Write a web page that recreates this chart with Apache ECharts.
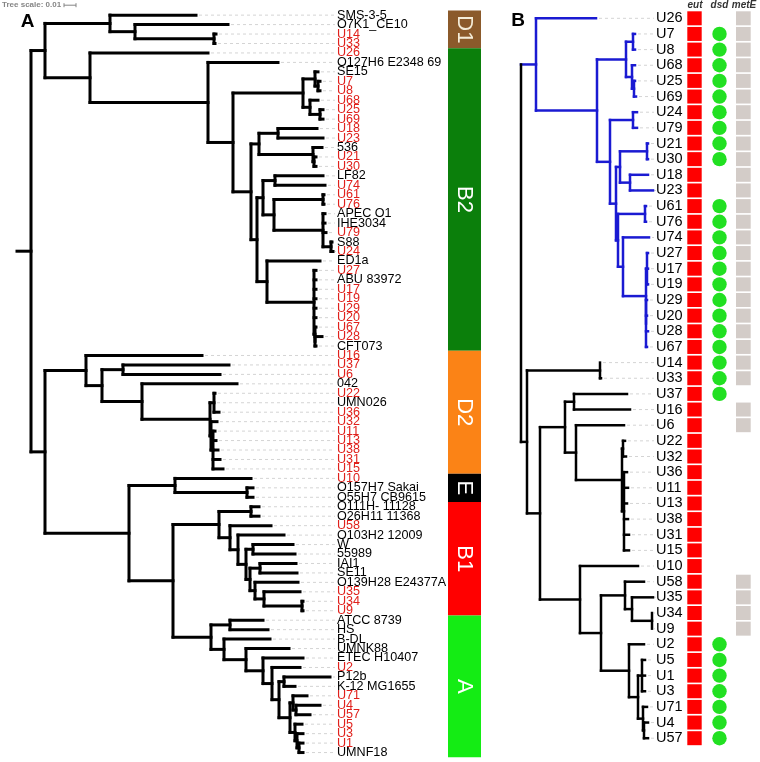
<!DOCTYPE html>
<html><head><meta charset="utf-8">
<script src="https://cdn.jsdelivr.net/npm/echarts@6/dist/echarts.min.js"></script>
<style>html,body{margin:0;padding:0;background:#fff}#c{width:760px;height:762px}</style>
</head><body><div id="c"></div>
<script>
// ---------------- DATA ----------------
// Panel A leaves, top to bottom
const leavesA = ['SMS-3-5','O7K1_CE10','U14','U33','U26','O127H6 E2348 69','SE15','U7','U8','U68','U25','U69','U18','U23','536','U21','U30','LF82','U74','U61','U76','APEC O1','IHE3034','U79','S88','U24','ED1a','U27','ABU 83972','U17','U19','U29','U20','U67','U28','CFT073','U16','U37','U6','042','U22','UMN026','U36','U32','U11','U13','U38','U31','U15','U10','O157H7 Sakai','O55H7 CB9615','O111H- 11128','O26H11 11368','U58','O103H2 12009','W','55989','IAI1','SE11','O139H28 E24377A','U35','U34','U9','ATCC 8739','HS','B-DL','UMNK88','ETEC H10407','U2','P12b','K-12 MG1655','U71','U4','U57','U5','U3','U1','UMNF18'];
// Trees: internal node = [depth, ...children], leaf = tip depth (distance from root; 12 units = 0.01)
const cladeD1 = [93, 179, [118, 211, [197, 199, 198]]];
const cladeB2 = [73, 191, [191, 261, [216,
  [286, [298, 301, [301, 303, 303]], [293, 301, [303, 306, 306]]],
  [234,
    [242, [261, 300, 306], [296, 305, [297, 299, 299]]],
    [240,
      [246, [258, 306, 308], [257, [306, 307, 307], [306, 308, 308, 309, [314, 315, 316]]]],
      [250, 303, [297, 299, 299, 299, 299, 299, 299, [298, 299, [298, 305, 299]]]]
    ]
  ]
]]];
const cladeD2 = [69, 185, [85, [106, 212, 203], [125, 220, [193, [197, 198, 197, 202], [194, 200, [196, 198, 199, 201, 203, 206]]]]]];
const cladeE = [158, 234, [230, 236, 236]];
const cladeB1 = [202, [234, 242, 242], [213, 254, [221, 267, [229, [236, 276, 278], [233, [243, 279, 280], [238, 281, [247, 283, [285, 286, 286]]]]]]]];
const cladeA = [194, [213, 246, 251], [207, 253, [229, 272, [246, 286, [255, 283, [262, [267, 313, 278], [273, [276, 290, [279, 303, 293]], [278, 285, [280, 286, [282, 286, 286]]]]]]]]]];
const rootDepthA = 14;
const treeA = [rootDepthA, [28, cladeD1, cladeB2], [28, cladeD2, [112, cladeE, [156, cladeB1, cladeA]]]];

const cladeNames = ['D1', 'B2', 'D2', 'E', 'B1', 'A'];
const cladeFrom = [-0.5, 3.5, 35.5, 48.5, 51.5, 63.5];
const cladeTo = [3.5, 35.5, 48.5, 51.5, 63.5, 78.5];
const scaleBarUnits = 12; // = 0.01

// Panel B
const leavesB = ['U26','U7','U8','U68','U25','U69','U24','U79','U21','U30','U18','U23','U61','U76','U74','U27','U17','U19','U29','U20','U28','U67','U14','U33','U37','U16','U6','U22','U32','U36','U11','U13','U38','U31','U15','U10','U58','U35','U34','U9','U2','U5','U1','U3','U71','U4','U57'];
const blueCladeB = [15, 75, [76,
  [105, [112, 114, 114], [111, 114, [113, 114, 115]]],
  [89, [112, 116, 116], [95,
    [99, [126, 127, 127], [109, 127, 132]],
    [97, [124, 125, 125], [102, 128, [125, [126, 127, 127, 127], [125, 126, 126, 127, 126]]]]
  ]]
]];
const otherCladeB = [6, [79, 79, 80], [19,
  [44, [53, 106, 109], [55, 103, [101, [102, 104, 105], [103, 106, 107, 106, 107, 108, 108]]]],
  [59, 117, [80,
    [104, 123, [111, 132, [131, 131, 131]]],
    [108, 123, [117, [121, 124, 124, 124], [122, 126, [123, 127, 127]]]]
  ]]
]];
const eut  = [1,1,1,1,1,1,1,1,1,1,1,1,1,1,1,1,1,1,1,1,1,1,1,1,1,1,1,1,1,1,1,1,1,1,1,1,1,1,1,1,1,1,1,1,1,1,1];
const dsd  = [0,1,1,1,1,1,1,1,1,1,0,0,1,1,1,1,1,1,1,1,1,1,1,1,1,0,0,0,0,0,0,0,0,0,0,0,0,0,0,0,1,1,1,1,1,1,1];
const metE = [1,1,1,1,1,1,1,1,1,1,1,1,1,1,1,1,1,1,1,1,1,1,1,1,0,1,1,0,0,0,0,0,0,0,0,0,1,1,1,1,0,0,0,0,0,0,0];

// ---------------- STYLE / LAYOUT ----------------
const FONT = '"Liberation Sans", Arial, sans-serif';
const RED_TXT = '#e0201b';
const BLUE = '#1a1ad2';
const cladeColors = ['#8b5a2b', '#0b7f0b', '#fb8316', '#000000', '#ff0000', '#14ec14'];
const SP_A = 9.48, Y0_A = 15, SP_B = 15.65, Y0_B = 18.3;
const LABEL_X_A = 320, BAR_X0 = 431, BAR_X1 = 464;
const LABEL_X_B = 135, EUT_X0 = 166.3, EUT_X1 = 180.7, DSD_X = 198.5, MET_X0 = 215, MET_X1 = 229.7;

function layout(rootDepth, kids, colors, stub) {
  const segs = [], tips = [];
  let n = 0;
  function walk(node, pd, c) {
    if (typeof node === 'number') {
      const y = n++;
      tips.push([node, y]);
      segs.push([pd, y, node, y, c]);
      return y;
    }
    const d = node[0];
    const ys = node.slice(1).map(ch => walk(ch, d, c));
    const y = (ys[0] + ys[ys.length - 1]) / 2;
    segs.push([d, ys[0], d, ys[ys.length - 1], c]);
    segs.push([pd, y, d, y, c]);
    return y;
  }
  const ys = kids.map((k, i) => walk(k, rootDepth, colors[i]));
  const ry = (ys[0] + ys[ys.length - 1]) / 2;
  segs.push([rootDepth, ys[0], rootDepth, ys[ys.length - 1], 0]);
  if (stub !== null) segs.push([stub, ry, rootDepth, ry, 0]);
  return { segs, tips };
}
const LA = layout(treeA[0], treeA.slice(1), [0, 0], 0);
const LB = layout(0, [blueCladeB, otherCladeB], [1, 0], null);

function branchRender(w) {
  return function (params, api) {
    const p1 = api.coord([api.value(0), api.value(1)]);
    const p2 = api.coord([api.value(2), api.value(3)]);
    return { type: 'line', shape: { x1: p1[0], y1: p1[1], x2: p2[0], y2: p2[1] },
      style: { stroke: api.value(4) ? BLUE : '#000', lineWidth: w, lineCap: 'square' } };
  };
}
function labelRender(names, labelX, fs, redU, dashEnd) {
  return function (params, api) {
    const i = api.value(1);
    const tip = api.coord([api.value(0), i]);
    const lab = api.coord([labelX, i]);
    const name = names[params.dataIndex];
    return { type: 'group', children: [
      { type: 'line', shape: { x1: tip[0] + 3, y1: tip[1], x2: lab[0] - dashEnd, y2: tip[1] },
        style: { stroke: '#d4d4d4', lineWidth: 1, lineDash: [3, 3] }, z2: 0 },
      { type: 'text', x: lab[0], y: lab[1], z2: 5,
        style: { text: name, fill: (redU && /^U\d+$/.test(name)) ? RED_TXT : '#000',
          fontSize: fs, fontFamily: FONT, align: 'left', verticalAlign: 'middle' } }
    ] };
  };
}

const chart = echarts.init(document.getElementById('c'), null, { renderer: 'canvas' });
chart.setOption({
  animation: false,
  backgroundColor: '#fff',
  grid: [
    { left: 17, width: 743, top: Y0_A - 1.6 * SP_A, height: 80.6 * SP_A },
    { left: 521, width: 239, top: Y0_B - SP_B, height: 48 * SP_B }
  ],
  xAxis: [
    { gridIndex: 0, type: 'value', min: 0, max: 743, show: false },
    { gridIndex: 1, type: 'value', min: 0, max: 239, show: false }
  ],
  yAxis: [
    { gridIndex: 0, type: 'value', min: -1.6, max: 79, inverse: true, show: false },
    { gridIndex: 1, type: 'value', min: -1, max: 47, inverse: true, show: false }
  ],
  graphic: [
    { type: 'text', left: 2, top: 1, style: { text: 'Tree scale: 0.01', fill: '#858585', font: 'bold 8px ' + FONT } },
    { type: 'text', x: 27.5, y: 22, style: { text: 'A', fill: '#000', font: 'bold 19px ' + FONT, align: 'center', verticalAlign: 'middle' } },
    { type: 'text', x: 518, y: 20.5, style: { text: 'B', fill: '#000', font: 'bold 19px ' + FONT, align: 'center', verticalAlign: 'middle' } },
    { type: 'text', x: 695, y: 5.5, style: { text: 'eut', fill: '#333', font: 'italic bold 10px ' + FONT, align: 'center', verticalAlign: 'middle' } },
    { type: 'text', x: 719.5, y: 5.5, style: { text: 'dsd', fill: '#333', font: 'italic bold 10px ' + FONT, align: 'center', verticalAlign: 'middle' } },
    { type: 'text', x: 744, y: 5.5, style: { text: 'metE', fill: '#333', font: 'italic bold 10px ' + FONT, align: 'center', verticalAlign: 'middle' } }
  ],
  series: [
    // scale bar
    { type: 'custom', xAxisIndex: 0, yAxisIndex: 0, silent: true,
      data: [[47, -1.05, 47 + scaleBarUnits]],
      renderItem: (params, api) => {
        const a = api.coord([api.value(0), api.value(1)]);
        const b = api.coord([api.value(2), api.value(1)]);
        const st = { stroke: '#858585', lineWidth: 1 };
        return { type: 'group', children: [
          { type: 'line', shape: { x1: a[0], y1: a[1], x2: b[0], y2: a[1] }, style: st },
          { type: 'line', shape: { x1: a[0], y1: a[1] - 2, x2: a[0], y2: a[1] + 2 }, style: st },
          { type: 'line', shape: { x1: b[0], y1: a[1] - 2, x2: b[0], y2: a[1] + 2 }, style: st }
        ] };
      } },
    // clade bars A
    { type: 'custom', xAxisIndex: 0, yAxisIndex: 0, silent: true,
      data: cladeNames.map((n, i) => [cladeFrom[i], cladeTo[i]]),
      renderItem: (params, api) => {
        const p0 = api.coord([BAR_X0, api.value(0)]);
        const p1 = api.coord([BAR_X1, api.value(1)]);
        const i = params.dataIndex;
        return { type: 'group', children: [
          { type: 'rect', shape: { x: p0[0], y: p0[1], width: p1[0] - p0[0], height: p1[1] - p0[1] },
            style: { fill: cladeColors[i] } },
          { type: 'text', x: (p0[0] + p1[0]) / 2, y: (p0[1] + p1[1]) / 2, rotation: -Math.PI / 2,
            style: { text: cladeNames[i], fill: i === 0 ? '#f4ecd8' : '#fff', fontSize: 22, fontFamily: FONT,
              align: 'center', verticalAlign: 'middle' } }
        ] };
      } },
    // labels + leaders A
    { type: 'custom', xAxisIndex: 0, yAxisIndex: 0, silent: true, data: LA.tips,
      renderItem: labelRender(leavesA, LABEL_X_A, 12.6, true, 2) },
    // tree A
    { type: 'custom', xAxisIndex: 0, yAxisIndex: 0, silent: true, data: LA.segs, renderItem: branchRender(3) },
    // labels + leaders B
    { type: 'custom', xAxisIndex: 1, yAxisIndex: 1, silent: true, data: LB.tips,
      renderItem: labelRender(leavesB, LABEL_X_B, 14.5, false, 2) },
    // tree B
    { type: 'custom', xAxisIndex: 1, yAxisIndex: 1, silent: true, data: LB.segs, renderItem: branchRender(2.5) },
    // annotation columns B
    { type: 'custom', xAxisIndex: 1, yAxisIndex: 1, silent: true,
      data: leavesB.map((n, i) => [i, eut[i], dsd[i], metE[i]]),
      renderItem: (params, api) => {
        const i = api.value(0);
        const ch = [];
        const a0 = api.coord([EUT_X0, i - 0.447]), a1 = api.coord([EUT_X1, i + 0.447]);
        if (api.value(1)) ch.push({ type: 'rect', shape: { x: a0[0], y: a0[1], width: a1[0] - a0[0], height: a1[1] - a0[1] }, style: { fill: '#ff0000' } });
        const c = api.coord([DSD_X, i]);
        if (api.value(2)) ch.push({ type: 'circle', shape: { cx: c[0], cy: c[1], r: 7.2 }, style: { fill: '#22e022' } });
        const m0 = api.coord([MET_X0, i - 0.447]), m1 = api.coord([MET_X1, i + 0.447]);
        if (api.value(3)) ch.push({ type: 'rect', shape: { x: m0[0], y: m0[1], width: m1[0] - m0[0], height: m1[1] - m0[1] }, style: { fill: '#d3ccc8' } });
        return { type: 'group', children: ch };
      } }
  ]
});
</script></body></html>
